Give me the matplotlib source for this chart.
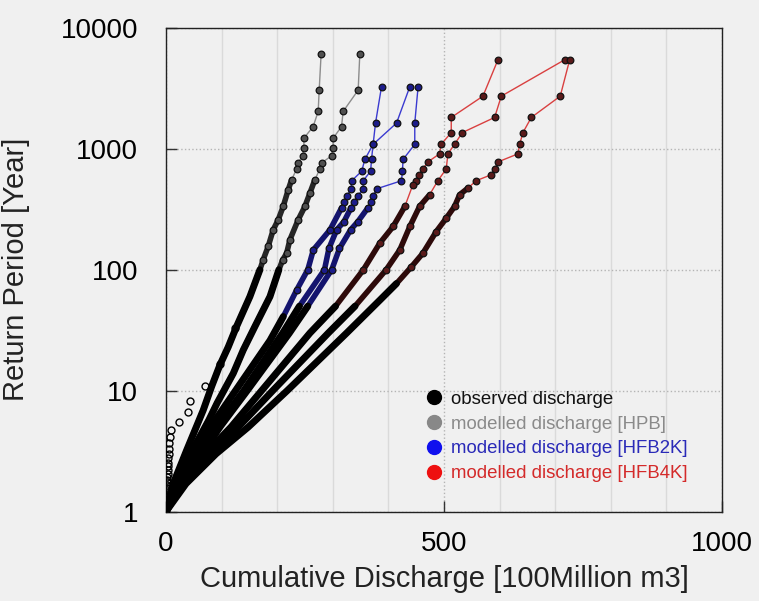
import numpy as np
import matplotlib
matplotlib.use("Agg")
import matplotlib.pyplot as plt
from matplotlib.lines import Line2D
from matplotlib.ticker import NullLocator, FixedLocator

plt.rcParams['font.family'] = ['Liberation Sans', 'DejaVu Sans']

# ---------------- data ----------------
# observed discharge
obs_T = [33, 16.5, 11, 8.25, 6.6, 5.5, 4.7, 4.1, 3.67, 3.3, 3.0, 2.75, 2.54, 2.36, 2.2, 2.06,
         1.94, 1.83, 1.74, 1.65, 1.57, 1.5, 1.43, 1.37, 1.32, 1.27, 1.22, 1.18, 1.14, 1.1, 1.06, 1.03]
obs_x = [124, 98, 70, 43, 40, 24, 9, 7, 6, 5.5, 5, 4.5, 4, 3.6, 3.3, 3, 2.7, 2.4, 2.1, 1.9,
         1.7, 1.5, 1.3, 1.1, 0.9, 0.8, 0.6, 0.5, 0.4, 0.3, 0.2, 0.1]

# modelled discharge [HPB]
hpb1_T = [6125, 3062, 2042, 1531, 1225, 1021, 875, 766, 681, 555, 459, 334, 259, 214, 156, 121,
          100, 60, 34, 23, 16.3, 10.8, 6.9, 3.2, 1.7, 1]
hpb1_x = [279, 275.5, 273.7, 264.7, 248, 248, 245.6, 237.7, 234.9, 225.9, 219.8, 210.8, 201.8,
          192.8, 183.8, 174.8, 168.9, 150.9, 127, 112, 97, 82, 67, 37, 13, 0]
hpb2_T = [6125, 3062, 2042, 1531, 1225, 1021, 875, 766, 681, 555, 431, 334, 259, 177, 137, 121,
          100, 60, 34, 21.7, 13.9, 7.9, 5.7, 3, 1.7, 1]
hpb2_x = [348.6, 345.6, 318.6, 315.7, 300.6, 300.6, 297.7, 279.8, 276.7, 267.7, 258.8, 249.8,
          237.7, 222.8, 217, 210, 203, 187, 160, 139, 121, 92, 77, 44, 16, 0]

# modelled discharge [HFB2K]
hfb2k1_T = [3270, 1635, 1090, 818, 654, 545, 467, 409, 363, 327, 214, 146, 100, 68, 41, 26, 10, 5, 3, 1.7, 1]
hfb2k1_x = [387.6, 376.8, 372.5, 357.6, 352, 334, 333, 325, 320, 316, 295, 265, 255, 235, 211, 187,
            125, 80, 55, 20, 0]
hfb2k2_T = [3270, 1635, 1090, 818, 654, 545, 467, 409, 363, 327, 250, 214, 150, 100, 50, 30, 10, 5, 3, 1.7, 1]
hfb2k2_x = [438.5, 414.6, 372.5, 369.6, 368, 354.6, 354.6, 345, 338, 333, 320, 307, 293, 285, 240,
            210, 140, 92, 62, 23, 0]
hfb2k3_T = [3270, 1635, 1090, 818, 654, 545, 467, 409, 363, 327, 250, 214, 150, 100, 50, 30, 10, 5, 3, 1.7, 1]
hfb2k3_x = [453.4, 447.4, 447.4, 426.3, 425.3, 423.5, 378.6, 372.5, 368, 363.5, 345, 332, 312, 298,
            255, 222, 146, 97, 65, 24, 0]

# modelled discharge [HFB4K]
hfb4k1_T = [5460, 2730, 1820, 1365, 1092, 910, 780, 683, 607, 546, 505, 334, 228, 166, 100, 50, 30,
            10, 5, 3, 1.7, 1]
hfb4k1_x = [597, 570, 513, 513, 495, 492, 471, 462, 455, 450, 444, 429.5, 408.5, 384.5, 355, 305,
            259, 172, 117, 71, 28, 0]
hfb4k2_T = [5460, 2730, 1820, 1365, 1092, 910, 683, 546, 417, 334, 228, 146, 100, 50, 30, 10, 5, 3, 1.7, 1]
hfb4k2_x = [717, 603, 591, 533, 519, 507, 504, 489, 474, 456, 438.5, 420.5, 396, 340, 292, 192,
            130, 80, 31, 0]
hfb4k3_T = [5460, 2730, 1820, 1365, 1092, 910, 780, 683, 611, 546, 474, 417, 334, 267, 207, 137,
            106, 77, 56, 30, 10, 5, 3, 1.7, 1]
hfb4k3_x = [726, 709, 657, 642, 636, 633, 597, 591, 585, 558, 543, 528, 519, 504, 486, 462, 441.5,
            414.6, 384.5, 325, 218, 148, 90, 36, 0]

legend_labels = ['observed discharge', 'modelled discharge [HPB]',
                 'modelled discharge [HFB2K]', 'modelled discharge [HFB4K]']

# ---------------- styling ----------------
BG = '#f0f0f0'
series = [
    # (x, T, line colour, marker fill, chain colour, chain top, black-band top)
    (hpb1_x, hpb1_T, '#8c8c8c', '#505050', '#262626', 560, 100),
    (hpb2_x, hpb2_T, '#8c8c8c', '#505050', '#262626', 560, 100),
    (hfb2k1_x, hfb2k1_T, '#3a3ad0', '#1c1c8a', '#14146e', 330, 60),
    (hfb2k2_x, hfb2k2_T, '#3a3ad0', '#1c1c8a', '#14146e', 330, 60),
    (hfb2k3_x, hfb2k3_T, '#3a3ad0', '#1c1c8a', '#14146e', 330, 60),
    (hfb4k1_x, hfb4k1_T, '#d94040', '#5a1a1a', '#2e0a0a', 480, 80),
    (hfb4k2_x, hfb4k2_T, '#d94040', '#5a1a1a', '#2e0a0a', 480, 80),
    (hfb4k3_x, hfb4k3_T, '#d94040', '#5a1a1a', '#2e0a0a', 480, 80),
]

fig = plt.figure(figsize=(7.59, 6.01), dpi=100, facecolor=BG)
ax = fig.add_axes([0.2187, 0.1489, 0.7326, 0.8045], facecolor=BG)

for x, T, lc, mfc, cc, ctop, btop in series:
    x = np.asarray(x, float)
    T = np.asarray(T, float)
    ax.plot(x, T, color=lc, lw=1.0, zorder=2)
    m = T <= ctop
    ax.plot(x[m], T[m], color=cc, lw=4.0, solid_capstyle='round', zorder=3)
    m2 = T <= btop
    ax.plot(x[m2], T[m2], color='black', lw=5.0, solid_capstyle='round', zorder=4)
    m3 = T > btop
    ax.plot(x[m3], T[m3], ls='none', marker='o', ms=4.8, mfc=mfc, mec='#111111', mew=0.9, zorder=5)

ax.plot(obs_x, obs_T, ls='none', marker='o', ms=5, mfc='none', mec='black', mew=1.0, zorder=6)

ax.set_yscale('log')
ax.set_xlim(0, 1000)
ax.set_ylim(1, 10000)
ax.set_yticks([1, 10, 100, 1000, 10000])
ax.set_yticklabels(['1', '10', '100', '1000', '10000'])
ax.yaxis.set_minor_locator(NullLocator())
ax.set_xticks([0, 500, 1000])
ax.set_xticklabels(['0', '500', '1000'])
ax.xaxis.set_minor_locator(FixedLocator([100, 200, 300, 400, 600, 700, 800, 900]))

ax.grid(which='major', ls=':', color='#b4b4b4', lw=1.0, zorder=0)
ax.grid(which='minor', axis='x', ls='-', color='#dadada', lw=1.0, zorder=0)
ax.set_axisbelow(True)

ax.tick_params(which='major', direction='in', length=8, width=1, color='#333333',
               labelsize=20)
ax.tick_params(axis='y', which='major', pad=20)
ax.tick_params(axis='x', which='major', pad=14)
ax.tick_params(which='minor', length=0)
for s in ax.spines.values():
    s.set_color('#222222')
    s.set_linewidth(1.0)

ax.set_xlabel('Cumulative Discharge [100Million m3]', fontsize=21, color='#222222')
ax.set_ylabel('Return Period [Year]', fontsize=21, color='#222222')
ax.xaxis.set_label_coords(0.5, -0.11)
ax.yaxis.set_label_coords(-0.245, 0.5)

leg_colors = ['black', '#888888', '#1010ee', '#ee1010']
text_colors = ['#111111', '#8a8a8a', '#2a2ab8', '#d42a2a']
handles = [Line2D([], [], ls='none', marker='o', ms=10, mfc=c, mec=c) for c in leg_colors]
leg = fig.legend(handles, legend_labels, loc='upper left', bbox_to_anchor=(0.561, 0.350),
                 frameon=False, fontsize=13.4, handlelength=0.9, handletextpad=0.45,
                 labelspacing=0.42, borderpad=0, borderaxespad=0)
for t, c in zip(leg.get_texts(), text_colors):
    t.set_color(c)

fig.savefig('out.png', dpi=100, facecolor=BG)
